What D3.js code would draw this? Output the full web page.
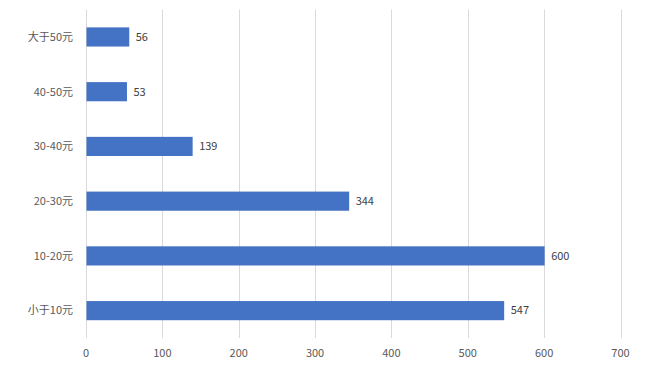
<!DOCTYPE html>
<head>
<meta charset="utf-8">
<style>
body { margin: 0; background: #fff; }
text { font-family: "Noto Sans CJK SC", "Noto Sans", sans-serif; fill: #595959; font-size: 11px; }
</style>
</head>
<body>
<script src="https://d3js.org/d3.v7.min.js"></script>
<script>
var categories = ["大于50元", "40-50元", "30-40元", "20-30元", "10-20元", "小于10元"];
var values = [56, 53, 139, 344, 600, 547];
var xTicks = [0, 100, 200, 300, 400, 500, 600, 700];

(function() {
	var W = 659, H = 375,
		plotLeft = 86, plotRight = 620.5, plotTop = 9.6, plotBottom = 338;

	var svg = d3.select("body").append("svg")
		.attr("width", W)
		.attr("height", H);

	var sx = d3.scaleLinear().domain([0, 700]).range([plotLeft, plotRight]);
	var sy = d3.scaleBand().domain(categories).range([plotTop, plotBottom]).paddingInner(0.65).paddingOuter(0.325);

	// gridlines
	svg.append("g").selectAll("line")
		.data(xTicks)
		.join("line")
		.attr("x1", d => Math.round(sx(d)) + 0.5)
		.attr("x2", d => Math.round(sx(d)) + 0.5)
		.attr("y1", plotTop)
		.attr("y2", plotBottom)
		.attr("stroke", "#d9d9d9")
		.attr("stroke-width", 1);

	// bars
	svg.append("g").selectAll("rect")
		.data(categories)
		.join("rect")
		.attr("x", sx(0) + 0.5)
		.attr("y", d => sy(d))
		.attr("width", (d, i) => sx(values[i]) - sx(0))
		.attr("height", sy.bandwidth())
		.attr("fill", "#4472c4");

	// value labels
	svg.append("g").selectAll("text")
		.data(categories)
		.join("text")
		.attr("x", (d, i) => sx(values[i]) + 7)
		.attr("y", d => sy(d) + sy.bandwidth() / 2)
		.attr("dy", "0.35em")
		.style("fill", "#404040")
		.text((d, i) => values[i]);

	// category labels
	svg.append("g").selectAll("text")
		.data(categories)
		.join("text")
		.attr("x", 73)
		.attr("y", d => sy(d) + sy.bandwidth() / 2)
		.attr("dy", "0.35em")
		.attr("text-anchor", "end")
		.text(d => d);

	// x axis labels
	svg.append("g").selectAll("text")
		.data(xTicks)
		.join("text")
		.attr("x", d => sx(d))
		.attr("y", 353)
		.attr("dy", "0.35em")
		.attr("text-anchor", "middle")
		.text(d => d);
})();
</script>
</body>
